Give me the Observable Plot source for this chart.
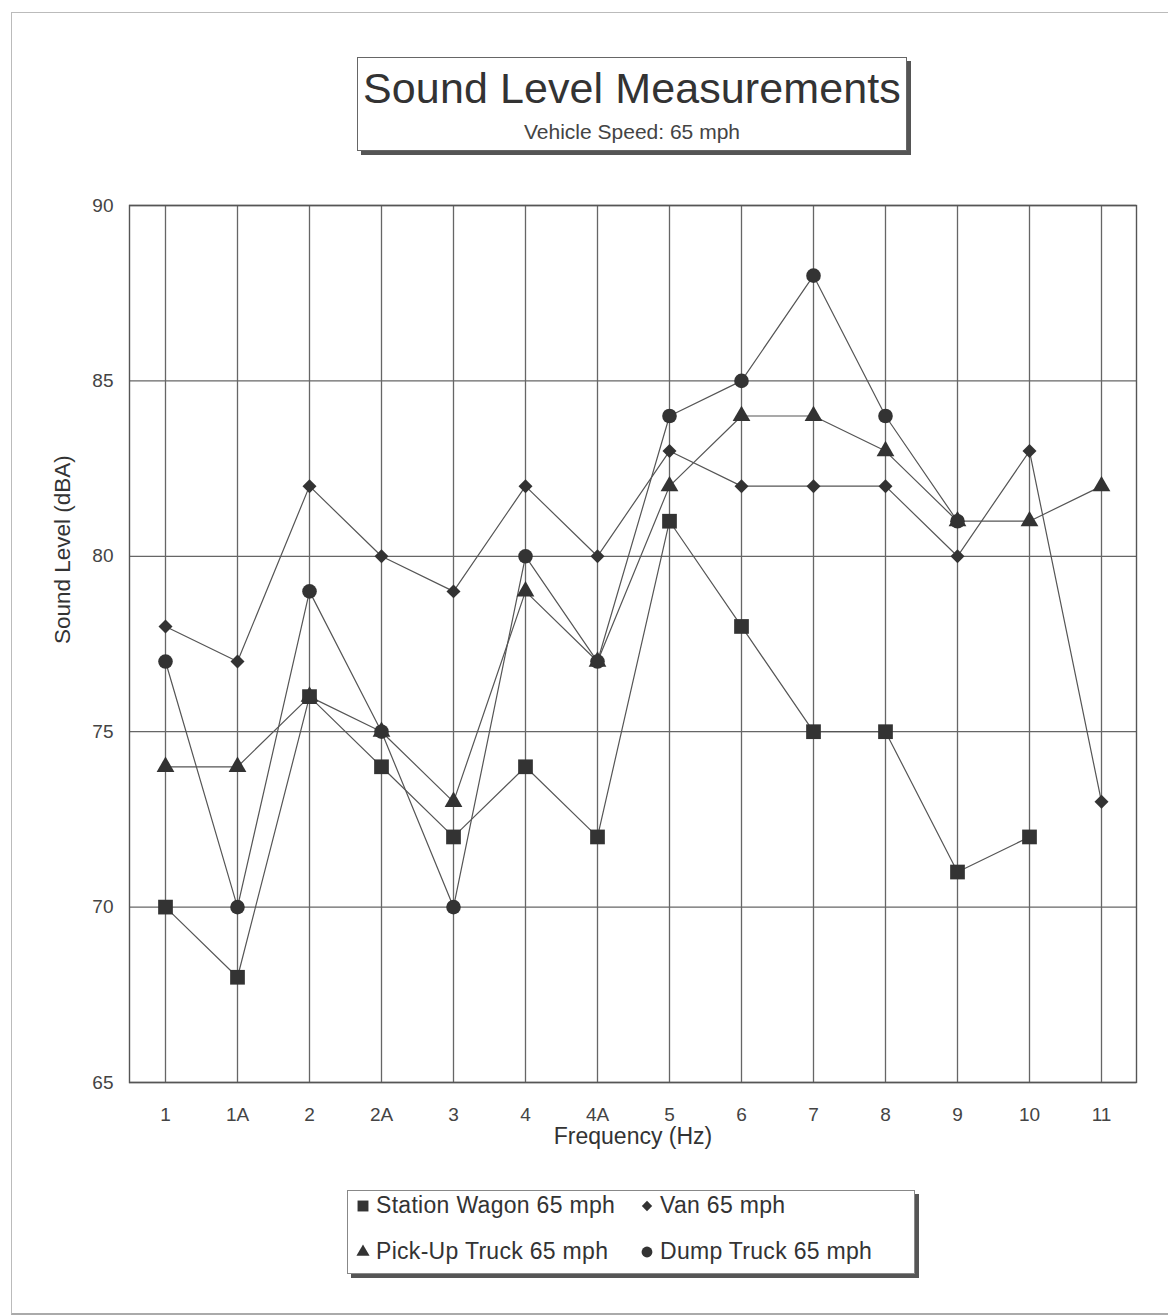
<!DOCTYPE html>
<html>
<head>
<meta charset="utf-8">
<script src="https://cdn.jsdelivr.net/npm/d3@7"></script>
<script src="https://cdn.jsdelivr.net/npm/@observablehq/plot@0.6"></script>
<style>
  html, body { margin: 0; padding: 0; background: #fff; }
  body { width: 1168px; height: 1316px; position: relative; overflow: hidden;
         font-family: "Liberation Sans", Arial, sans-serif; color: #333; }
  #page { position: absolute; left: 11px; top: 12px; width: 1180px; height: 1300px;
          border-left: 1.5px solid #bbb; border-top: 1.5px solid #bbb; border-bottom: 2px solid #aaa; }
  #titlebox { position: absolute; left: 357px; top: 57px; width: 548px; height: 92px;
              border: 1.5px solid #666; box-shadow: 4px 4px 0 #555; background: #fff; text-align: center; }
  #title { position: absolute; left: 0; right: 0; top: 6px; font-size: 43px; color: #333; letter-spacing: 0.1px; }
  #subtitle { position: absolute; left: 0; right: 0; top: 62px; font-size: 21px; color: #444; }
  #chart { position: absolute; left: 0; top: 180px; }
  #legend { position: absolute; left: 347px; top: 1190px; width: 566px; height: 82px;
            border: 1.5px solid #888; box-shadow: 4px 4px 0 #555; background: #fff; }
  .li { position: absolute; font-size: 23px; color: #333; white-space: nowrap; display: flex; align-items: center; letter-spacing: 0.3px; }
  .li svg { margin-right: 4px; }
</style>
</head>
<body>
<div id="page"></div>
<div id="titlebox">
  <div id="title">Sound Level Measurements</div>
  <div id="subtitle">Vehicle Speed: 65 mph</div>
</div>
<div id="chart"></div>
<div id="legend"></div>
<script>
// ---- data ----
const categories = ["1", "1A", "2", "2A", "3", "4", "4A", "5", "6", "7", "8", "9", "10", "11"];
const stationWagon = [70, 68, 76, 74, 72, 74, 72, 81, 78, 75, 75, 71, 72, null];
const van          = [78, 77, 82, 80, 79, 82, 80, 83, 82, 82, 82, 80, 83, 73];
const pickUpTruck  = [74, 74, 76, 75, 73, 79, 77, 82, 84, 84, 83, 81, 81, 82];
const dumpTruck    = [77, 70, 79, 75, 70, 80, 77, 84, 85, 88, 84, 81, null, null];
const seriesNames  = ["Station Wagon 65 mph", "Van 65 mph", "Pick-Up Truck 65 mph", "Dump Truck 65 mph"];
const yTicks = [65, 70, 75, 80, 85, 90];
const xLabel = "Frequency (Hz)";
const yLabel = "Sound Level (dBA)";

const seriesValues = [stationWagon, van, pickUpTruck, dumpTruck];
const symbols = ["square", "diamond2", "triangle", "circle"];
const radii = [8.3, 6.3, 6.6, 7.3];

function rows(values) {
  return categories.map((c, i) => ({cat: c, value: values[i]})).filter(d => d.value != null);
}

const marks = [
  Plot.gridX({stroke: "#666", strokeOpacity: 1, strokeWidth: 1.3}),
  Plot.gridY(yTicks, {stroke: "#666", strokeOpacity: 1, strokeWidth: 1.3}),
  Plot.frame({stroke: "#555", strokeWidth: 1.4}),
  Plot.axisY(yTicks, {tickSize: 0, tickPadding: 16, fontSize: 19, fill: "#444", label: null}),
  Plot.axisX({tickSize: 0, tickPadding: 25, fontSize: 19, fill: "#444", label: null}),
  Plot.text([yLabel], {frameAnchor: "left", dx: -67, rotate: -90, fontSize: 22.5, fill: "#333", text: d => d}),
  Plot.text([xLabel], {frameAnchor: "bottom", dy: 61, fontSize: 23, fill: "#333", text: d => d})
];
seriesValues.forEach((vals) => {
  marks.push(Plot.line(rows(vals), {x: "cat", y: "value", stroke: "#555", strokeWidth: 1.2}));
});
seriesValues.forEach((vals, k) => {
  marks.push(Plot.dot(rows(vals), {x: "cat", y: "value", symbol: symbols[k], r: radii[k], fill: "#333", stroke: "none"}));
});

const chart = Plot.plot({
  width: 1168,
  height: 990,
  marginTop: 25,
  marginBottom: 88,
  marginLeft: 129,
  marginRight: 32,
  style: {fontFamily: "'Liberation Sans', Arial, sans-serif", background: "transparent"},
  x: {type: "point", domain: categories, padding: 0, range: [160.8, 1104.5], label: null},
  y: {domain: [65, 90], label: null},
  marks
});
document.getElementById("chart").appendChild(chart);

// ---- legend ----
const legend = document.getElementById("legend");
const pos = [[6, 15], [290, 15], [6, 61], [290, 61]];
const symTypes = {square: d3.symbolSquare, diamond2: d3.symbolDiamond2, triangle: d3.symbolTriangle, circle: d3.symbolCircle};
seriesNames.forEach((name, k) => {
  const item = document.createElement("div");
  item.className = "li";
  item.style.left = pos[k][0] + "px";
  item.style.top = (pos[k][1] - 14) + "px";
  const sym = d3.symbol().type(symTypes[symbols[k]]).size(Math.PI * radii[k] * radii[k] * 0.55)();
  item.innerHTML = `<svg width="18" height="18" viewBox="-9 -9 18 18"><path d="${sym}" fill="#333"></path></svg><span>${name}</span>`;
  legend.appendChild(item);
});
</script>
</body>
</html>
